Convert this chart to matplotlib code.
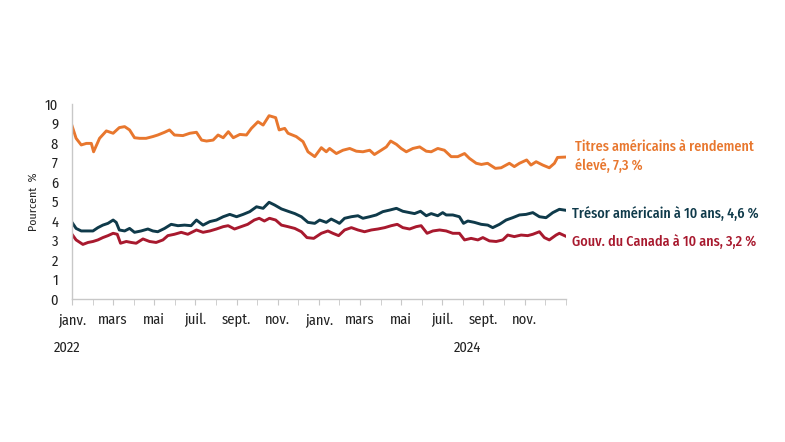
import numpy as np
import matplotlib
matplotlib.use("Agg")
import matplotlib.pyplot as plt

# months elapsed since start of January 2022
hy_x = [0, 0.2, 0.45, 0.7, 0.94, 1.05, 1.34, 1.67, 2.0, 2.3, 2.56, 2.8, 3.04, 3.29, 3.6,
        3.93, 4.17, 4.5, 4.74, 4.98, 5.39, 5.73, 6.05, 6.3, 6.54, 6.86, 7.1, 7.35, 7.6,
        7.84, 8.16, 8.48, 8.72, 9.04, 9.29, 9.58, 9.9, 10.07, 10.34, 10.5, 10.9, 11.23,
        11.47, 11.8, 12.12, 12.36, 12.52, 12.85, 13.17, 13.5, 13.82, 14.14, 14.47, 14.7,
        15.03, 15.28, 15.49, 15.77, 16.0, 16.25, 16.57, 16.9, 17.22, 17.46, 17.78, 18.1,
        18.43, 18.75, 19.08, 19.32, 19.65, 19.9, 20.2, 20.58, 20.86, 21.26, 21.5, 21.75,
        22.1, 22.31, 22.56, 22.88, 23.2, 23.45, 23.6, 24.0]
hy_y = [8.89, 8.24, 7.9, 7.98, 7.98, 7.55, 8.24, 8.62, 8.5, 8.79, 8.84, 8.67, 8.27, 8.24, 8.24,
        8.33, 8.41, 8.55, 8.67, 8.41, 8.38, 8.5, 8.55, 8.15, 8.1, 8.15, 8.41, 8.27, 8.58,
        8.27, 8.44, 8.41, 8.75, 9.09, 8.92, 9.4, 9.3, 8.67, 8.75, 8.5, 8.33, 8.07,
        7.55, 7.3, 7.76, 7.55, 7.72, 7.46, 7.63, 7.72, 7.58, 7.55, 7.63, 7.41,
        7.63, 7.8, 8.1, 7.93, 7.72, 7.55, 7.72, 7.8, 7.58, 7.55, 7.72, 7.63,
        7.3, 7.3, 7.46, 7.21, 6.96, 6.9, 6.96, 6.7, 6.73, 6.96, 6.79, 6.96,
        7.13, 6.87, 7.04, 6.87, 6.73, 6.96, 7.26, 7.28]

ust_x = [0, 0.2, 0.45, 0.7, 1.02, 1.26, 1.5, 1.75, 2.0, 2.15, 2.3, 2.56, 2.8, 3.04, 3.36,
         3.69, 3.93, 4.17, 4.5, 4.82, 5.15, 5.47, 5.79, 6.05, 6.37, 6.7, 7.02, 7.35, 7.67,
         8.0, 8.32, 8.64, 8.97, 9.29, 9.58, 9.85, 10.18, 10.5, 10.83, 11.15, 11.47, 11.8,
         12.04, 12.36, 12.6, 12.85, 13.0, 13.25, 13.58, 13.9, 14.14, 14.47, 14.79, 15.11,
         15.44, 15.77, 16.08, 16.41, 16.65, 16.94, 17.22, 17.46, 17.78, 18.02, 18.19,
         18.51, 18.83, 19.03, 19.24, 19.56, 19.89, 20.21, 20.45, 20.78, 21.1, 21.42,
         21.75, 22.07, 22.4, 22.72, 23.04, 23.37, 23.69, 24.0]
ust_y = [3.93, 3.62, 3.49, 3.49, 3.49, 3.66, 3.79, 3.88, 4.05, 3.93, 3.54, 3.49, 3.62, 3.42, 3.49,
         3.59, 3.49, 3.45, 3.62, 3.83, 3.76, 3.79, 3.76, 4.05, 3.79, 3.97, 4.05, 4.22, 4.34,
         4.22, 4.34, 4.48, 4.73, 4.65, 4.96, 4.82, 4.62, 4.5, 4.38, 4.22, 3.93, 3.88,
         4.05, 3.93, 4.1, 3.97, 3.88, 4.14, 4.22, 4.27, 4.14, 4.22, 4.31, 4.48,
         4.56, 4.65, 4.5, 4.43, 4.38, 4.5, 4.27, 4.38, 4.27, 4.43, 4.31,
         4.31, 4.22, 3.88, 4.0, 3.93, 3.83, 3.79, 3.66, 3.83, 4.05, 4.17,
         4.31, 4.34, 4.43, 4.22, 4.17, 4.43, 4.6, 4.55]

can_x = [0, 0.2, 0.53, 0.78, 1.02, 1.26, 1.5, 1.75, 2.0, 2.2, 2.36, 2.64, 2.88, 3.12, 3.45,
         3.77, 4.09, 4.42, 4.66, 4.98, 5.31, 5.63, 6.05, 6.37, 6.7, 7.02, 7.35, 7.59, 7.9,
         8.22, 8.54, 8.86, 9.1, 9.35, 9.6, 9.9, 10.18, 10.5, 10.83, 11.15, 11.42, 11.75,
         12.12, 12.44, 12.68, 12.96, 13.25, 13.58, 13.9, 14.22, 14.55, 14.87, 15.2, 15.52,
         15.81, 16.08, 16.41, 16.73, 16.97, 17.26, 17.54, 17.87, 18.19, 18.51, 18.83,
         19.08, 19.4, 19.73, 19.97, 20.29, 20.62, 20.94, 21.18, 21.5, 21.83, 22.15, 22.4,
         22.72, 22.96, 23.2, 23.53, 23.69, 24.0]
can_y = [3.32, 3.03, 2.8, 2.9, 2.95, 3.03, 3.15, 3.25, 3.37, 3.32, 2.86, 2.95, 2.9, 2.86, 3.08,
         2.95, 2.9, 3.03, 3.25, 3.32, 3.42, 3.32, 3.54, 3.42, 3.49, 3.59, 3.71, 3.76, 3.59,
         3.71, 3.83, 4.05, 4.14, 4.0, 4.14, 4.05, 3.79, 3.71, 3.62, 3.45, 3.15, 3.11,
         3.37, 3.49, 3.37, 3.25, 3.54, 3.66, 3.54, 3.45, 3.54, 3.59, 3.66, 3.76,
         3.83, 3.66, 3.59, 3.71, 3.76, 3.37, 3.49, 3.54, 3.49, 3.37, 3.37,
         3.03, 3.11, 3.03, 3.15, 2.98, 2.95, 3.03, 3.28, 3.2, 3.28, 3.25, 3.32,
         3.45, 3.15, 3.03, 3.28, 3.37, 3.22]

month_labels = ["janv.", "mars", "mai", "juil.", "sept.", "nov."] * 2
year_labels = [("2022", -0.26), ("2024", 19.2)]
series_labels = ["Titres américains à rendement\nélevé, 7,3 %",
                 "Trésor américain à 10 ans, 4,6 %",
                 "Gouv. du Canada à 10 ans, 3,2 %"]

orange = "#E8772E"
navy = "#0F3A4A"
red = "#A8192E"
txt = "#222222"

plt.rcParams["font.family"] = ["Fira Sans Condensed", "Roboto", "DejaVu Sans"]

fig = plt.figure(figsize=(7.85, 4.42), dpi=100)
ax = fig.add_axes([0.0917, 0.3235, 0.629, 0.4412])

ax.plot(hy_x, hy_y, color=orange, lw=2.1)
ax.plot(ust_x, ust_y, color=navy, lw=2.1)
ax.plot(can_x, can_y, color=red, lw=2.1)

ax.set_xlim(0, 24)
ax.set_ylim(0, 10)
ax.set_yticks(range(0, 11))
ax.tick_params(axis="y", length=0, labelsize=10.5, pad=10, labelcolor=txt)
ax.set_xticks(range(0, 25), minor=True)
ax.set_xticks(range(0, 24, 2))
ax.set_xticklabels(month_labels)
ax.tick_params(axis="x", which="both", length=4, color="#c8c8c8", direction="out")
ax.tick_params(axis="x", labelsize=10.5, pad=6, labelcolor=txt)
for s in ["top", "right"]:
    ax.spines[s].set_visible(False)
for s in ["left", "bottom"]:
    ax.spines[s].set_color("#c8c8c8")
    ax.spines[s].set_linewidth(1)

ax.set_ylabel("Pourcent  %", fontsize=8.5, color=txt, labelpad=4)

for label, xm in year_labels:
    ax.text(xm, -0.25, label, transform=ax.get_xaxis_transform(), ha="center", va="center",
            fontsize=10.5, color=txt)

ax.text(24.47, 7.3, series_labels[0], color=orange, fontsize=10.2, fontweight="medium",
        va="center", ha="left", linespacing=1.35, clip_on=False)
ax.text(24.32, 4.36, series_labels[1], color=navy, fontsize=10.2, fontweight="medium",
        va="center", ha="left", clip_on=False)
ax.text(24.32, 2.97, series_labels[2], color=red, fontsize=10.2, fontweight="medium",
        va="center", ha="left", clip_on=False)

fig.savefig("out.png", dpi=100)
